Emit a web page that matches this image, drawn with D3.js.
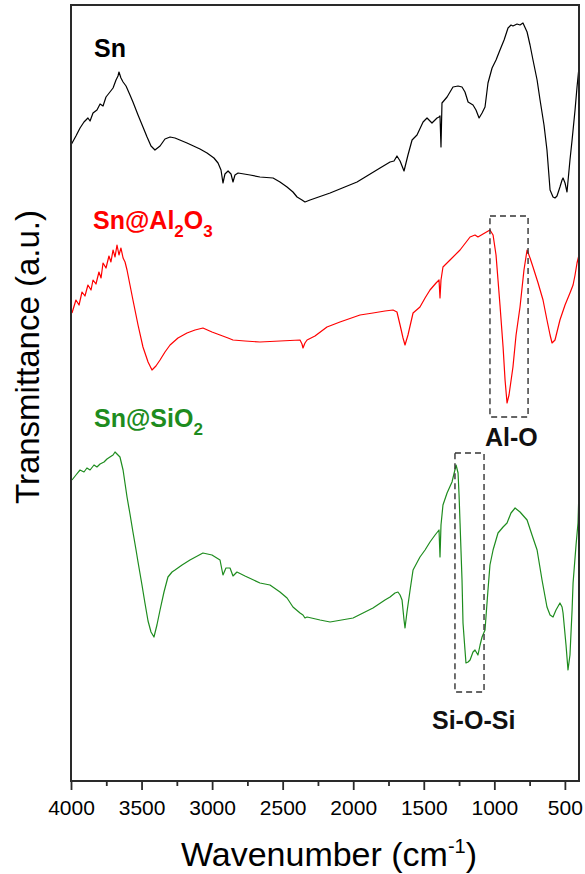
<!DOCTYPE html>
<html>
<head>
<meta charset="utf-8">
<script src="https://cdn.jsdelivr.net/npm/d3@7"></script>
<style>
  html, body { margin: 0; padding: 0; background: #fff; }
  svg { display: block; font-family: Arial, "Liberation Sans", Helvetica, sans-serif; }
</style>
</head>
<body>
<svg id="chart" width="585" height="874"></svg>
<script>
// ---------------- data (wavenumber cm^-1, transmittance a.u.) ----------------
const snWn = [4000,3965,3936,3908,3880,3865,3844,3816,3794,3773,3752,3724,3702,3681,3667,3660,3646,3631,3610,3582,3561,3525,3490,3461,3433,3405,3369,3334,3298,3263,3178,3086,3036,2987,2958,2937,2923,2909,2887,2866,2852,2838,2816,2731,2661,2568,2519,2469,2427,2398,2363,2342,2306,2164,1973,1810,1739,1711,1690,1668,1640,1612,1583,1548,1505,1477,1442,1406,1392,1385,1378,1371,1335,1293,1257,1229,1208,1186,1151,1130,1108,1087,1066,1045,1016,988,960,931,903,882,868,839,818,797,768,747,726,697,676,648,627,605,584,570,556,535,520,513,499,485,464,449,428,414,400];
const snT  = [63.6,64.5,65.3,65.9,66.3,66.0,66.8,67.1,67.7,67.5,68.4,68.9,69.3,70.1,70.5,70.9,70.3,69.9,69.5,68.6,67.9,66.6,65.4,64.4,63.5,63.1,63.5,64.2,64.4,64.3,63.8,63.2,62.8,62.3,61.8,61.1,59.8,60.7,61.0,60.7,59.9,60.6,60.8,60.6,60.4,60.3,59.9,59.4,58.9,58.4,58.1,57.9,58.1,58.8,59.9,61.3,61.9,62.0,62.5,62.0,61.0,62.6,64.1,64.6,65.9,66.3,65.8,66.3,66.4,66.5,63.4,67.8,68.4,69.4,69.5,69.4,68.9,67.9,67.6,67.1,66.3,66.8,67.4,69.8,71.3,72.1,73.1,74.1,75.3,75.6,75.5,75.7,75.6,75.8,74.9,73.6,72.1,70.1,68.1,65.6,63.1,59.1,58.4,58.3,58.5,59.4,60.1,60.3,59.8,58.9,62.1,64.1,67.1,69.4,71.4];

const alWn = [3993,3965,3943,3922,3901,3880,3858,3844,3823,3802,3787,3773,3752,3731,3717,3702,3688,3674,3660,3646,3631,3617,3603,3582,3561,3525,3490,3454,3426,3398,3369,3334,3298,3242,3178,3121,3065,3001,2944,2887,2852,2767,2661,2519,2377,2363,2356,2342,2327,2271,2186,2094,1952,1860,1775,1718,1690,1668,1647,1633,1612,1576,1527,1491,1456,1413,1392,1385,1378,1364,1314,1243,1172,1137,1116,1080,1031,1009,988,974,960,938,924,910,896,868,846,818,790,768,747,726,690,655,627,605,591,570,535,499,464,442,428,414,400];
const alT  = [46.8,48.1,47.6,48.9,48.5,49.6,49.1,50.1,49.7,50.9,50.3,51.8,51.3,52.5,51.9,53.1,52.4,53.6,52.6,53.3,52.3,51.9,51.1,49.6,48.1,45.6,43.4,41.9,41.1,41.5,42.1,42.9,43.6,44.3,44.8,45.1,45.3,44.9,44.6,44.3,44.1,44.0,43.9,44.0,44.1,43.7,43.3,43.8,44.1,44.5,45.4,45.9,46.6,46.8,47.0,47.1,46.9,45.6,44.3,43.6,44.6,46.8,47.4,48.3,49.1,49.8,50.1,48.3,50.1,51.4,52.1,53.1,54.4,54.6,54.4,54.7,55.1,54.6,52.6,50.1,47.6,43.4,40.1,37.8,38.6,41.4,44.6,47.4,51.1,53.1,52.3,51.4,49.8,48.1,46.1,44.6,43.8,44.1,46.1,47.6,48.8,49.6,50.6,51.8,52.6];

const siWn = [3993,3965,3936,3908,3887,3865,3837,3816,3794,3766,3745,3724,3702,3688,3674,3653,3631,3603,3582,3561,3539,3525,3497,3476,3454,3433,3412,3391,3369,3341,3313,3284,3263,3213,3157,3065,3001,2944,2923,2902,2873,2852,2824,2767,2661,2590,2519,2469,2427,2377,2356,2342,2327,2235,2164,2001,1860,1775,1739,1704,1683,1668,1654,1640,1633,1619,1597,1576,1527,1491,1456,1420,1392,1385,1378,1364,1335,1300,1271,1257,1250,1243,1229,1222,1208,1201,1186,1172,1151,1137,1116,1101,1087,1066,1045,1031,1009,974,938,910,882,853,818,768,733,697,662,627,605,584,563,535,520,513,492,478,464,449,442,421,407,400];
const siT  = [30.1,30.6,31.1,30.9,31.3,31.1,31.6,31.4,31.7,31.9,32.2,32.4,32.6,32.9,32.7,32.4,31.1,28.4,26.7,24.9,23.1,21.9,19.6,17.8,16.0,14.9,14.4,15.6,17.1,18.9,20.4,20.9,21.1,21.6,22.1,22.8,22.6,22.1,20.6,21.3,21.3,20.5,20.9,20.5,19.8,19.6,18.9,18.3,17.4,16.8,16.6,16.3,16.4,16.1,15.9,16.3,17.3,18.1,18.4,18.8,18.9,18.6,18.1,16.1,15.3,16.9,19.1,21.1,22.4,23.1,23.9,24.6,25.1,22.4,25.6,27.6,28.8,29.9,31.6,30.8,28.6,25.8,20.1,15.8,13.1,11.8,11.9,12.1,12.9,13.1,12.6,13.6,14.4,15.1,19.1,21.6,23.1,24.8,25.4,25.8,26.8,27.3,26.9,26.1,24.6,23.1,20.1,17.4,16.6,16.4,17.1,17.8,17.4,16.8,13.6,11.1,12.6,17.1,19.8,23.6,25.8,29.1];

const seriesNames  = ["Sn", "Sn@Al2O3", "Sn@SiO2"];
const seriesColors = ["#000000", "#ff0000", "#1e8c1e"];

const majorTicks = [4000, 3500, 3000, 2500, 2000, 1500, 1000, 500];
const minorTicks = [3750, 3250, 2750, 2250, 1750, 1250, 750];

// annotation boxes: [wnHigh, wnLow, tTop, tBottom]
const alOBox  = [1031, 761, 56.5, 36.4];
const siOBox  = [1279, 1073, 32.8, 8.9];

// ---------------- layout ----------------
const svg = d3.select("#chart");
const L = 71, R = 579, T = 5, B = 781;

const x = d3.scaleLinear().domain([4000, 400]).range([L, R]);
const y = d3.scaleLinear().domain([0, 77.6]).range([B, T]);

// spectra
const seriesData = [
  snWn.map((w, i) => [w, snT[i]]),
  alWn.map((w, i) => [w, alT[i]]),
  siWn.map((w, i) => [w, siT[i]])
];
const line = d3.line().x(d => x(d[0])).y(d => y(d[1]));
seriesData.forEach((d, i) => {
  svg.append("path")
    .datum(d)
    .attr("d", line)
    .attr("fill", "none")
    .attr("stroke", seriesColors[i])
    .attr("stroke-width", 1.2)
    .attr("stroke-linejoin", "round");
});

// dashed boxes
[alOBox, siOBox].forEach(b => {
  svg.append("rect")
    .attr("x", x(b[0]))
    .attr("y", y(b[2]))
    .attr("width", x(b[1]) - x(b[0]))
    .attr("height", y(b[3]) - y(b[2]))
    .attr("fill", "none")
    .attr("stroke", "#333")
    .attr("stroke-width", 1.4)
    .attr("stroke-dasharray", "6,4");
});

// frame
svg.append("rect")
  .attr("x", L).attr("y", T)
  .attr("width", R - L).attr("height", B - T)
  .attr("fill", "none")
  .attr("stroke", "#2a2a2a")
  .attr("stroke-width", 2);

// axis
const xAxis = d3.axisBottom(x).tickValues(majorTicks).tickSize(9).tickPadding(10).tickFormat(d3.format("d"));
const gx = svg.append("g").attr("transform", `translate(0,${B})`).call(xAxis);
gx.select(".domain").remove();
gx.selectAll(".tick line").attr("stroke", "#2a2a2a").attr("stroke-width", 1.8);
gx.selectAll(".tick text").attr("font-size", 21).attr("fill", "#000")
  .attr("font-family", "Arial, 'Liberation Sans', sans-serif");

const xMinor = d3.axisBottom(x).tickValues(minorTicks).tickSize(5).tickFormat("");
const gm = svg.append("g").attr("transform", `translate(0,${B})`).call(xMinor);
gm.select(".domain").remove();
gm.selectAll(".tick line").attr("stroke", "#2a2a2a").attr("stroke-width", 1.8);

// axis titles
const xt = svg.append("text")
  .attr("x", (L + R) / 2 + 4).attr("y", 866)
  .attr("text-anchor", "middle")
  .attr("font-size", 34).attr("fill", "#000");
xt.append("tspan").text("Wavenumber (cm");
xt.append("tspan").attr("font-size", 20).attr("dy", -13).text("-1");
xt.append("tspan").attr("dy", 13).text(")");

svg.append("text")
  .attr("transform", `translate(39,357) rotate(-90)`)
  .attr("text-anchor", "middle")
  .attr("font-size", 33).attr("fill", "#000")
  .text("Transmittance (a.u.)");

// series labels
function label(xp, yp, color, parts) {
  const t = svg.append("text")
    .attr("x", xp).attr("y", yp)
    .attr("font-size", 25).attr("font-weight", "bold").attr("fill", color);
  parts.forEach(p => {
    if (p.sub) {
      t.append("tspan").attr("font-size", 17).attr("dy", 8).text(p.t);
    } else {
      t.append("tspan").attr("dy", p.after ? -8 : 0).text(p.t);
    }
  });
  return t;
}
label(94, 57, seriesColors[0], [{t: "Sn"}]);
label(93, 229, seriesColors[1], [{t: "Sn@Al"}, {t: "2", sub: true}, {t: "O", after: true}, {t: "3", sub: true}]);
label(94, 427, seriesColors[2], [{t: "Sn@SiO"}, {t: "2", sub: true}]);

// peak labels
svg.append("text").attr("x", 485).attr("y", 446)
  .attr("font-size", 25).attr("font-weight", "bold").attr("fill", "#111").text("Al-O");
svg.append("text").attr("x", 432).attr("y", 729)
  .attr("font-size", 25).attr("font-weight", "bold").attr("fill", "#111").text("Si-O-Si");
</script>
</body>
</html>
